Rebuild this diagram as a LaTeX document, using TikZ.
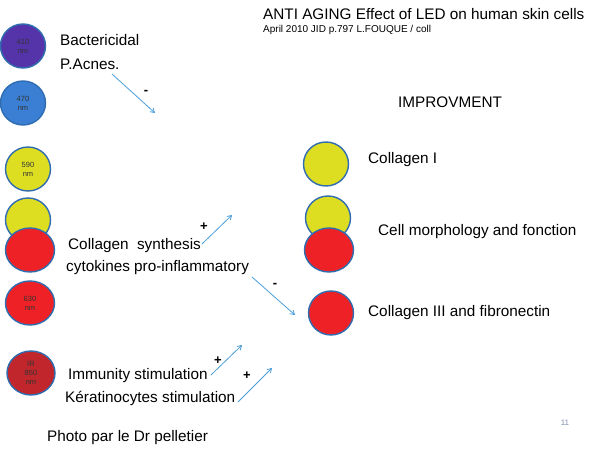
\documentclass[tikz,border=0pt]{standalone}
\usepackage{fontspec}
\setmainfont{Liberation Sans}
\usetikzlibrary{arrows.meta,shapes.geometric}
\definecolor{cpurple}{HTML}{5434A8}
\definecolor{cblue}{HTML}{3B7FD4}
\definecolor{cyellow}{HTML}{DDDD22}
\definecolor{cred}{HTML}{EE2226}
\definecolor{cdred}{HTML}{C0262C}
\definecolor{cedge}{HTML}{2F6DB0}
\definecolor{carrow}{HTML}{4A9FDA}
\definecolor{cpage}{HTML}{8090B0}
\tikzset{
  dot/.style={ellipse, draw=cedge, line width=1.4pt, inner sep=0pt, minimum width=#1, minimum height=44pt,
    font=\fontsize{7.5}{9}\selectfont, align=center, text=black!80},
  dot/.default=45pt,
  lbl/.style={anchor=west, inner sep=0pt, font=\fontsize{15.3}{18}\selectfont},
  sgn/.style={inner sep=0pt, font=\fontsize{13}{14}\selectfont\bfseries},
  arr/.style={draw=carrow, line width=0.8pt, -{Straight Barb[length=4pt,width=5pt]}}
}
\begin{document}
\begin{tikzpicture}[x=1pt,y=-1pt]
\useasboundingbox[fill=white] (0,0) rectangle (590,452);
% title
\node[anchor=west, inner sep=0pt, font=\fontsize{15.3}{18}\selectfont] (title) at (263,14) {ANTI AGING Effect of LED on human skin cells};
\node[anchor=west, inner sep=0pt, font=\fontsize{10}{12}\selectfont] (sub) at (263,30) {April 2010 JID p.797 L.FOUQUE / coll};
% left circles
\node[dot, fill=cpurple] (c410) at (23,46) {410\\nm};
\node[dot, fill=cblue] (c470) at (23,103) {470\\nm};
\node[dot, fill=cyellow] (c590) at (28,169) {590\\nm};
\node[dot, fill=cyellow] (cy2) at (28,220) {};
\node[dot=49pt, fill=cred] (cr2) at (30,250) {};
\node[dot=49pt, fill=cred] (c630) at (30,303) {630\\nm};
\node[dot=48pt, fill=cdred] (cir) at (31,373) {IR\\850\\nm};
% right circles
\node[dot, fill=cyellow] (r1) at (326,164) {};
\node[dot, fill=cyellow] (r2) at (328,218) {};
\node[dot=49pt, fill=cred] (r3) at (329,250) {};
\node[dot, fill=cred] (r4) at (331,313) {};
% labels
\node[lbl] (bact) at (60,40) {Bactericidal};
\node[lbl] (acnes) at (60,64) {P.Acnes.};
\node[lbl] (impr) at (398,102) {IMPROVMENT};
\node[lbl] (col1) at (368,160) {Collagen I};
\node[lbl] (cell) at (378,232) {Cell morphology and fonction};
\node[lbl] (col3) at (368,313) {Collagen III and fibronectin};
\node[lbl] (colsyn) at (68,246) {Collagen\ \ synthesis};
\node[lbl] (cyto) at (66,268) {cytokines pro-inflammatory};
\node[lbl] (immu) at (68,376) {Immunity stimulation};
\node[lbl] (kera) at (65,398) {Kératinocytes stimulation};
\node[lbl] (photo) at (47,438) {Photo par le Dr pelletier};
\node[inner sep=0pt, font=\fontsize{8}{9}\selectfont\rmfamily, text=cpage] (page) at (565,423) {11};
% arrows
\coordinate (a1s) at (112,74); \coordinate (a1e) at (155,113);
\coordinate (a2s) at (202,244); \coordinate (a2e) at (232,215);
\coordinate (a3s) at (252,277); \coordinate (a3e) at (295,315);
\coordinate (a4s) at (211,375); \coordinate (a4e) at (242,345);
\coordinate (a5s) at (238,402); \coordinate (a5e) at (272,368);
\draw[arr] (a1s) -- (a1e);
\draw[arr] (a2s) -- (a2e);
\draw[arr] (a3s) -- (a3e);
\draw[arr] (a4s) -- (a4e);
\draw[arr] (a5s) -- (a5e);
% signs
\node[sgn] (s1) at (146,92) {-};
\node[sgn] (s2) at (204,227) {+};
\node[sgn] (s3) at (275,285) {-};
\node[sgn] (s4) at (218,361) {+};
\node[sgn] (s5) at (247,376) {+};
\end{tikzpicture}
\end{document}
